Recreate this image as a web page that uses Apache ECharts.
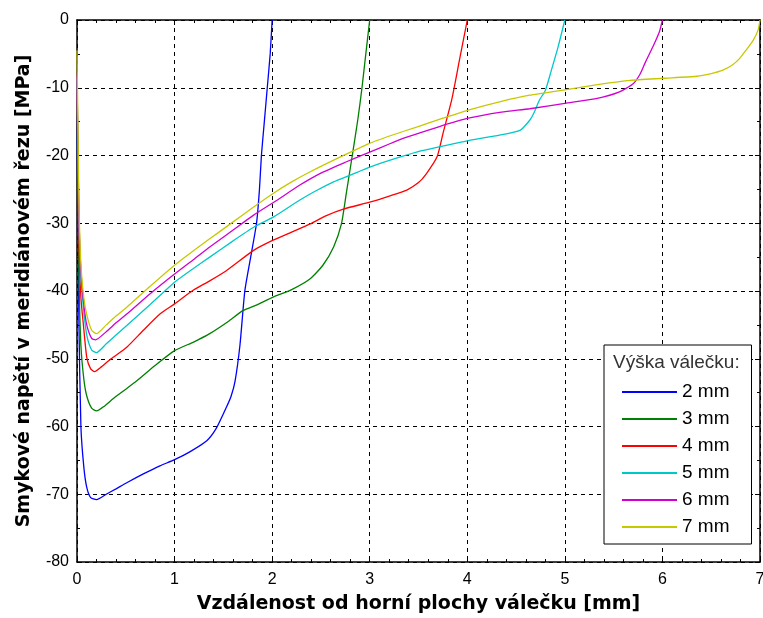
<!DOCTYPE html>
<html>
<head>
<meta charset="utf-8">
<script src="https://cdn.jsdelivr.net/npm/echarts@6/dist/echarts.min.js"></script>
<style>
html,body{margin:0;padding:0;background:#fff;}
#chart{width:763px;height:618px;}
</style>
</head>
<body>
<div id="chart"></div>
<script>
// ---- data (x in mm, y in MPa) ----
var seriesNames = ['2 mm', '3 mm', '4 mm', '5 mm', '6 mm', '7 mm'];
var xTicks = [0, 1, 2, 3, 4, 5, 6, 7];
var yTicks = [0, -10, -20, -30, -40, -50, -60, -70, -80];

var h2mm = [[0,-14],[0.01,-30],[0.02,-45],[0.04,-60],[0.07,-66],[0.1,-69],[0.14,-70.5],[0.2,-70.8],[0.3,-70],[0.4,-69.2],[0.51,-68.3],[0.68,-67],[0.85,-65.8],[1.0,-64.9],[1.16,-63.7],[1.33,-62.1],[1.43,-60.2],[1.53,-57.2],[1.58,-55.5],[1.62,-53.3],[1.67,-48],[1.72,-40],[1.78,-35],[1.84,-30],[1.87,-25],[1.89,-20],[1.92,-15],[1.95,-10],[1.98,-5],[2.0,0]];
var h3mm = [[0,-12],[0.01,-25],[0.02,-38],[0.04,-48],[0.07,-53],[0.1,-55.5],[0.15,-57.3],[0.2,-57.7],[0.28,-57],[0.37,-55.9],[0.5,-54.5],[0.61,-53.3],[0.8,-51],[1.0,-48.8],[1.2,-47.5],[1.36,-46.3],[1.55,-44.5],[1.7,-42.9],[1.85,-42],[2.01,-40.9],[2.2,-39.8],[2.39,-38.2],[2.52,-36.2],[2.63,-33.5],[2.71,-30.1],[2.76,-25.6],[2.83,-19.2],[2.88,-14.5],[2.92,-10.1],[2.96,-5],[3.0,0]];
var h4mm = [[0,-10.5],[0.01,-22],[0.02,-33],[0.04,-41],[0.065,-44.9],[0.1,-49.8],[0.14,-51.5],[0.18,-51.9],[0.25,-51.2],[0.35,-50],[0.51,-48.3],[0.68,-45.8],[0.85,-43.4],[1.0,-41.9],[1.19,-39.9],[1.36,-38.5],[1.53,-37],[1.81,-34],[2.01,-32.5],[2.2,-31.3],[2.39,-30.1],[2.55,-28.9],[2.73,-27.9],[3.0,-26.9],[3.2,-26],[3.38,-25.1],[3.5,-24],[3.58,-22.7],[3.69,-20.2],[3.75,-16.8],[3.84,-11.8],[3.92,-5.9],[4.0,0]];
var h5mm = [[0,-8.5],[0.01,-20],[0.02,-30],[0.04,-38],[0.07,-43],[0.1,-46.5],[0.15,-48.7],[0.2,-49.1],[0.3,-47.8],[0.4,-46.5],[0.51,-45.1],[0.75,-42],[1.0,-38.7],[1.2,-36.6],[1.36,-35],[1.6,-32.6],[1.81,-30.6],[2.01,-29.1],[2.28,-26.6],[2.45,-25.2],[2.63,-23.9],[2.8,-22.9],[3.0,-21.7],[3.25,-20.5],[3.48,-19.5],[3.72,-18.7],[4.01,-17.8],[4.33,-17],[4.54,-16.3],[4.64,-14.8],[4.68,-13.8],[4.74,-11.8],[4.8,-10.4],[4.86,-7.5],[4.93,-4],[5.0,0]];
var h6mm = [[0,-8],[0.01,-19],[0.02,-29],[0.04,-37],[0.07,-42],[0.1,-45],[0.15,-47],[0.19,-47.2],[0.3,-46],[0.4,-44.7],[0.51,-43.4],[0.75,-40.4],[1.0,-37.5],[1.2,-35.3],[1.36,-33.5],[1.6,-31],[1.81,-28.8],[2.05,-26.6],[2.28,-24.4],[2.5,-22.6],[2.75,-21],[3.0,-19.5],[3.2,-18.3],[3.38,-17.3],[3.7,-15.8],[4.01,-14.5],[4.35,-13.6],[4.64,-13.1],[5.0,-12.3],[5.32,-11.6],[5.56,-10.6],[5.7,-9.4],[5.77,-8],[5.82,-6.4],[5.87,-4.9],[5.92,-3.4],[5.97,-1.7],[6.0,0]];
var h7mm = [[0,-4.5],[0.01,-16],[0.02,-27],[0.04,-36],[0.07,-41],[0.1,-43.5],[0.15,-45.8],[0.2,-46.3],[0.3,-45],[0.4,-43.7],[0.51,-42.4],[0.75,-39.3],[1.0,-36.2],[1.2,-34],[1.36,-32.3],[1.6,-29.8],[1.81,-27.6],[2.01,-25.6],[2.2,-23.9],[2.39,-22.4],[2.7,-20.2],[3.0,-18.2],[3.25,-16.9],[3.48,-15.8],[3.75,-14.5],[4.01,-13.3],[4.35,-12],[4.64,-11.1],[5.0,-10.3],[5.35,-9.5],[5.67,-8.9],[6.01,-8.6],[6.35,-8.3],[6.5,-7.9],[6.62,-7.4],[6.72,-6.6],[6.79,-5.7],[6.86,-4.4],[6.93,-3],[6.98,-1.5],[7.0,0]];

var seriesData = [h2mm, h3mm, h4mm, h5mm, h6mm, h7mm];
var colors = ['#0000ff', '#008000', '#ff0000', '#00c8c8', '#d000d0', '#c8c800'];

var FONT = 'Liberation Sans';
var chart = echarts.init(document.getElementById('chart'), null, {renderer: 'canvas'});

function baseAxis(extra) {
  var a = {
    type: 'value',
    axisLine: {show: true, onZero: false, lineStyle: {color: '#000', width: 1.5}},
    axisTick: {show: true, inside: true, length: 5, lineStyle: {color: '#000'}},
    minorTick: {show: true, length: 3, lineStyle: {color: '#000'}},
    splitLine: {show: false},
    axisLabel: {show: false}
  };
  for (var k in extra) a[k] = extra[k];
  return a;
}

var option = {
  animation: false,
  backgroundColor: '#fff',
  grid: {left: 77, right: 3, top: 20, bottom: 56, containLabel: false, outerBoundsMode: 'none'},
  xAxis: [
    baseAxis({
      position: 'bottom', min: xTicks[0], max: xTicks[xTicks.length - 1], interval: 1,
      minorTick: {show: true, splitNumber: 5, length: 3, lineStyle: {color: '#000'}},
      splitLine: {show: true, lineStyle: {color: '#000', type: [4, 4], width: 1}},
      axisLabel: {show: true, color: '#000', fontFamily: FONT, fontSize: 16, margin: 10},
      name: 'Vzdálenost od horní plochy válečku [mm]',
      nameLocation: 'middle', nameGap: 33,
      nameTextStyle: {color: '#000', fontFamily: 'DejaVu Sans', fontWeight: 'bold', fontSize: 19}
    }),
    baseAxis({
      position: 'top', min: xTicks[0], max: xTicks[xTicks.length - 1], interval: 1,
      minorTick: {show: true, splitNumber: 5, length: 3, lineStyle: {color: '#000'}}
    })
  ],
  yAxis: [
    baseAxis({
      position: 'left', min: yTicks[yTicks.length - 1], max: yTicks[0], interval: 10,
      minorTick: {show: true, splitNumber: 2, length: 3, lineStyle: {color: '#000'}},
      splitLine: {show: true, lineStyle: {color: '#000', type: [4, 4], width: 1}},
      axisLabel: {show: true, color: '#000', fontFamily: FONT, fontSize: 16, margin: 8},
      name: 'Smykové napětí v meridiánovém řezu [MPa]',
      nameLocation: 'middle', nameGap: 43, nameRotate: 90,
      nameTextStyle: {color: '#000', fontFamily: 'DejaVu Sans', fontWeight: 'bold', fontSize: 19}
    }),
    baseAxis({
      position: 'right', min: yTicks[yTicks.length - 1], max: yTicks[0], interval: 10,
      minorTick: {show: true, splitNumber: 2, length: 3, lineStyle: {color: '#000'}}
    })
  ],
  legend: {
    orient: 'vertical',
    left: 604, top: 345,
    padding: [37, 22, 7, 18],
    backgroundColor: '#fff',
    borderColor: '#000', borderWidth: 1,
    itemWidth: 55, itemHeight: 2, itemGap: 7,
    icon: 'rect',
    textStyle: {color: '#000', fontFamily: FONT, fontSize: 19, lineHeight: 20},
    data: seriesNames
  },
  graphic: [{
    type: 'text', left: 613, top: 353, z: 100,
    style: {text: 'Výška válečku:', fill: '#333', font: '19px "Liberation Sans"'}
  }],
  series: seriesNames.map(function (n, i) {
    return {
      name: n, type: 'line', data: seriesData[i],
      xAxisIndex: 0, yAxisIndex: 0,
      showSymbol: false, symbol: 'none',
      smooth: 0.2,
      lineStyle: {color: colors[i], width: 1.3},
      itemStyle: {color: colors[i]},
      clip: true, z: 3
    };
  })
};
chart.setOption(option);
</script>
</body>
</html>
